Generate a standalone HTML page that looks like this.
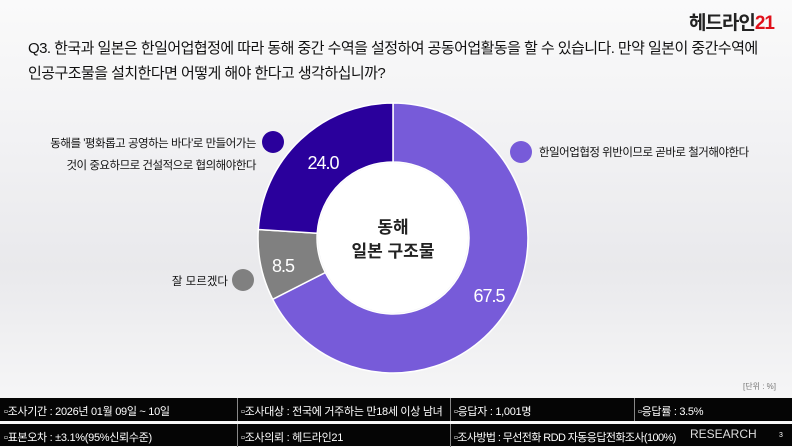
<!DOCTYPE html>
<html><head><meta charset="utf-8"><style>
body{margin:0;width:792px;height:446px;overflow:hidden;position:relative;font-family:"Liberation Sans","Noto Sans CJK KR",sans-serif;background:linear-gradient(#fafafa,#f2f2f4 30%,#e9e9ec 60%,#f4f4f5 85%,#fafafa);}
.t{position:absolute;white-space:nowrap}
.row{position:absolute;left:0;width:792px;height:23px;background:#050505;color:#fff;font-size:11px;letter-spacing:-0.3px}
.row div{position:absolute;top:5px;white-space:nowrap}
.sep{position:absolute;top:0;width:1px;height:23px;background:#888}
</style></head><body>
<div class="t" style="right:18px;top:8px;font-size:19px;font-weight:bold;color:#222;letter-spacing:-1px">헤드라인<span style="color:#e0101a">21</span></div>
<div class="t" style="left:28px;top:36px;font-size:15px;color:#111;line-height:25px;letter-spacing:-0.55px">Q3. 한국과 일본은 한일어업협정에 따라 동해 중간 수역을 설정하여 공동어업활동을 할 수 있습니다. 만약 일본이 중간수역에<br>인공구조물을 설치한다면 어떻게 해야 한다고 생각하십니까?</div>
<svg width="792" height="446" style="position:absolute;left:0;top:0">
<path d="M393,103 A135,135 0 1 1 272.7,299.3 L325.3,272.5 A76,76 0 1 0 393,162 Z" fill="#775bd9" stroke="#fff" stroke-width="1.5"/>
<path d="M272.7,299.3 A135,135 0 0 1 258.3,229.5 L317.2,233.2 A76,76 0 0 0 325.3,272.5 Z" fill="#808080" stroke="#fff" stroke-width="1.5"/>
<path d="M258.3,229.5 A135,135 0 0 1 393,103 L393,162 A76,76 0 0 0 317.2,233.2 Z" fill="#2a009c" stroke="#fff" stroke-width="1.5"/>
<circle cx="393" cy="238" r="75" fill="#fff"/>
<g font-family="Liberation Sans, sans-serif" font-size="18" fill="#fff" text-anchor="middle" letter-spacing="-1">
<text x="323" y="169">24.0</text><text x="283" y="272">8.5</text><text x="489" y="302">67.5</text></g>
<g font-family="Liberation Sans, Noto Sans CJK KR, sans-serif" font-size="17" font-weight="bold" fill="#222" text-anchor="middle">
<text x="393" y="233">동해</text><text x="393" y="257">일본 구조물</text></g>
<circle cx="273" cy="142" r="11" fill="#2a009c"/>
<circle cx="521" cy="152" r="11" fill="#775bd9"/>
<circle cx="243" cy="280" r="11" fill="#808080"/>
</svg>
<div class="t" style="right:536px;top:133px;font-size:11.5px;color:#111;text-align:right;line-height:22px;letter-spacing:-0.5px">동해를 '평화롭고 공영하는 바다'로 만들어가는<br>것이 중요하므로 건설적으로 협의해야한다</div>
<div class="t" style="left:539px;top:144px;font-size:11.5px;color:#111;letter-spacing:-0.5px">한일어업협정 위반이므로 곧바로 철거해야한다</div>
<div class="t" style="right:564px;top:273px;font-size:11.5px;color:#111">잘 모르겠다</div>
<div class="t" style="right:16px;top:381px;font-size:8px;color:#777">[단위 : %]</div>
<div class="row" style="top:398px"><div style="left:4px">▫조사기간 : 2026년 01월 09일 ~ 10일</div><span class="sep" style="left:237px"></span><div style="left:241px">▫조사대상 : 전국에 거주하는 만18세 이상 남녀</div><span class="sep" style="left:450px"></span><div style="left:454px">▫응답자 : 1,001명</div><span class="sep" style="left:634px"></span><div style="left:638px">▫응답률 : 3.5%</div></div>
<div class="row" style="top:424px;height:22px"><div style="left:4px">▫표본오차 : ±3.1%(95%신뢰수준)</div><span class="sep" style="left:237px"></span><div style="left:241px">▫조사의뢰 : 헤드라인21</div><span class="sep" style="left:450px"></span><div style="left:454px;letter-spacing:-0.6px">▫조사방법 : 무선전화 RDD 자동응답전화조사(100%)</div><div style="left:690px;top:3px;font-size:12px;letter-spacing:0;color:#ddd">RESEARCH</div><div style="left:779px;top:8px;font-size:7px">3</div></div>
</body></html>
